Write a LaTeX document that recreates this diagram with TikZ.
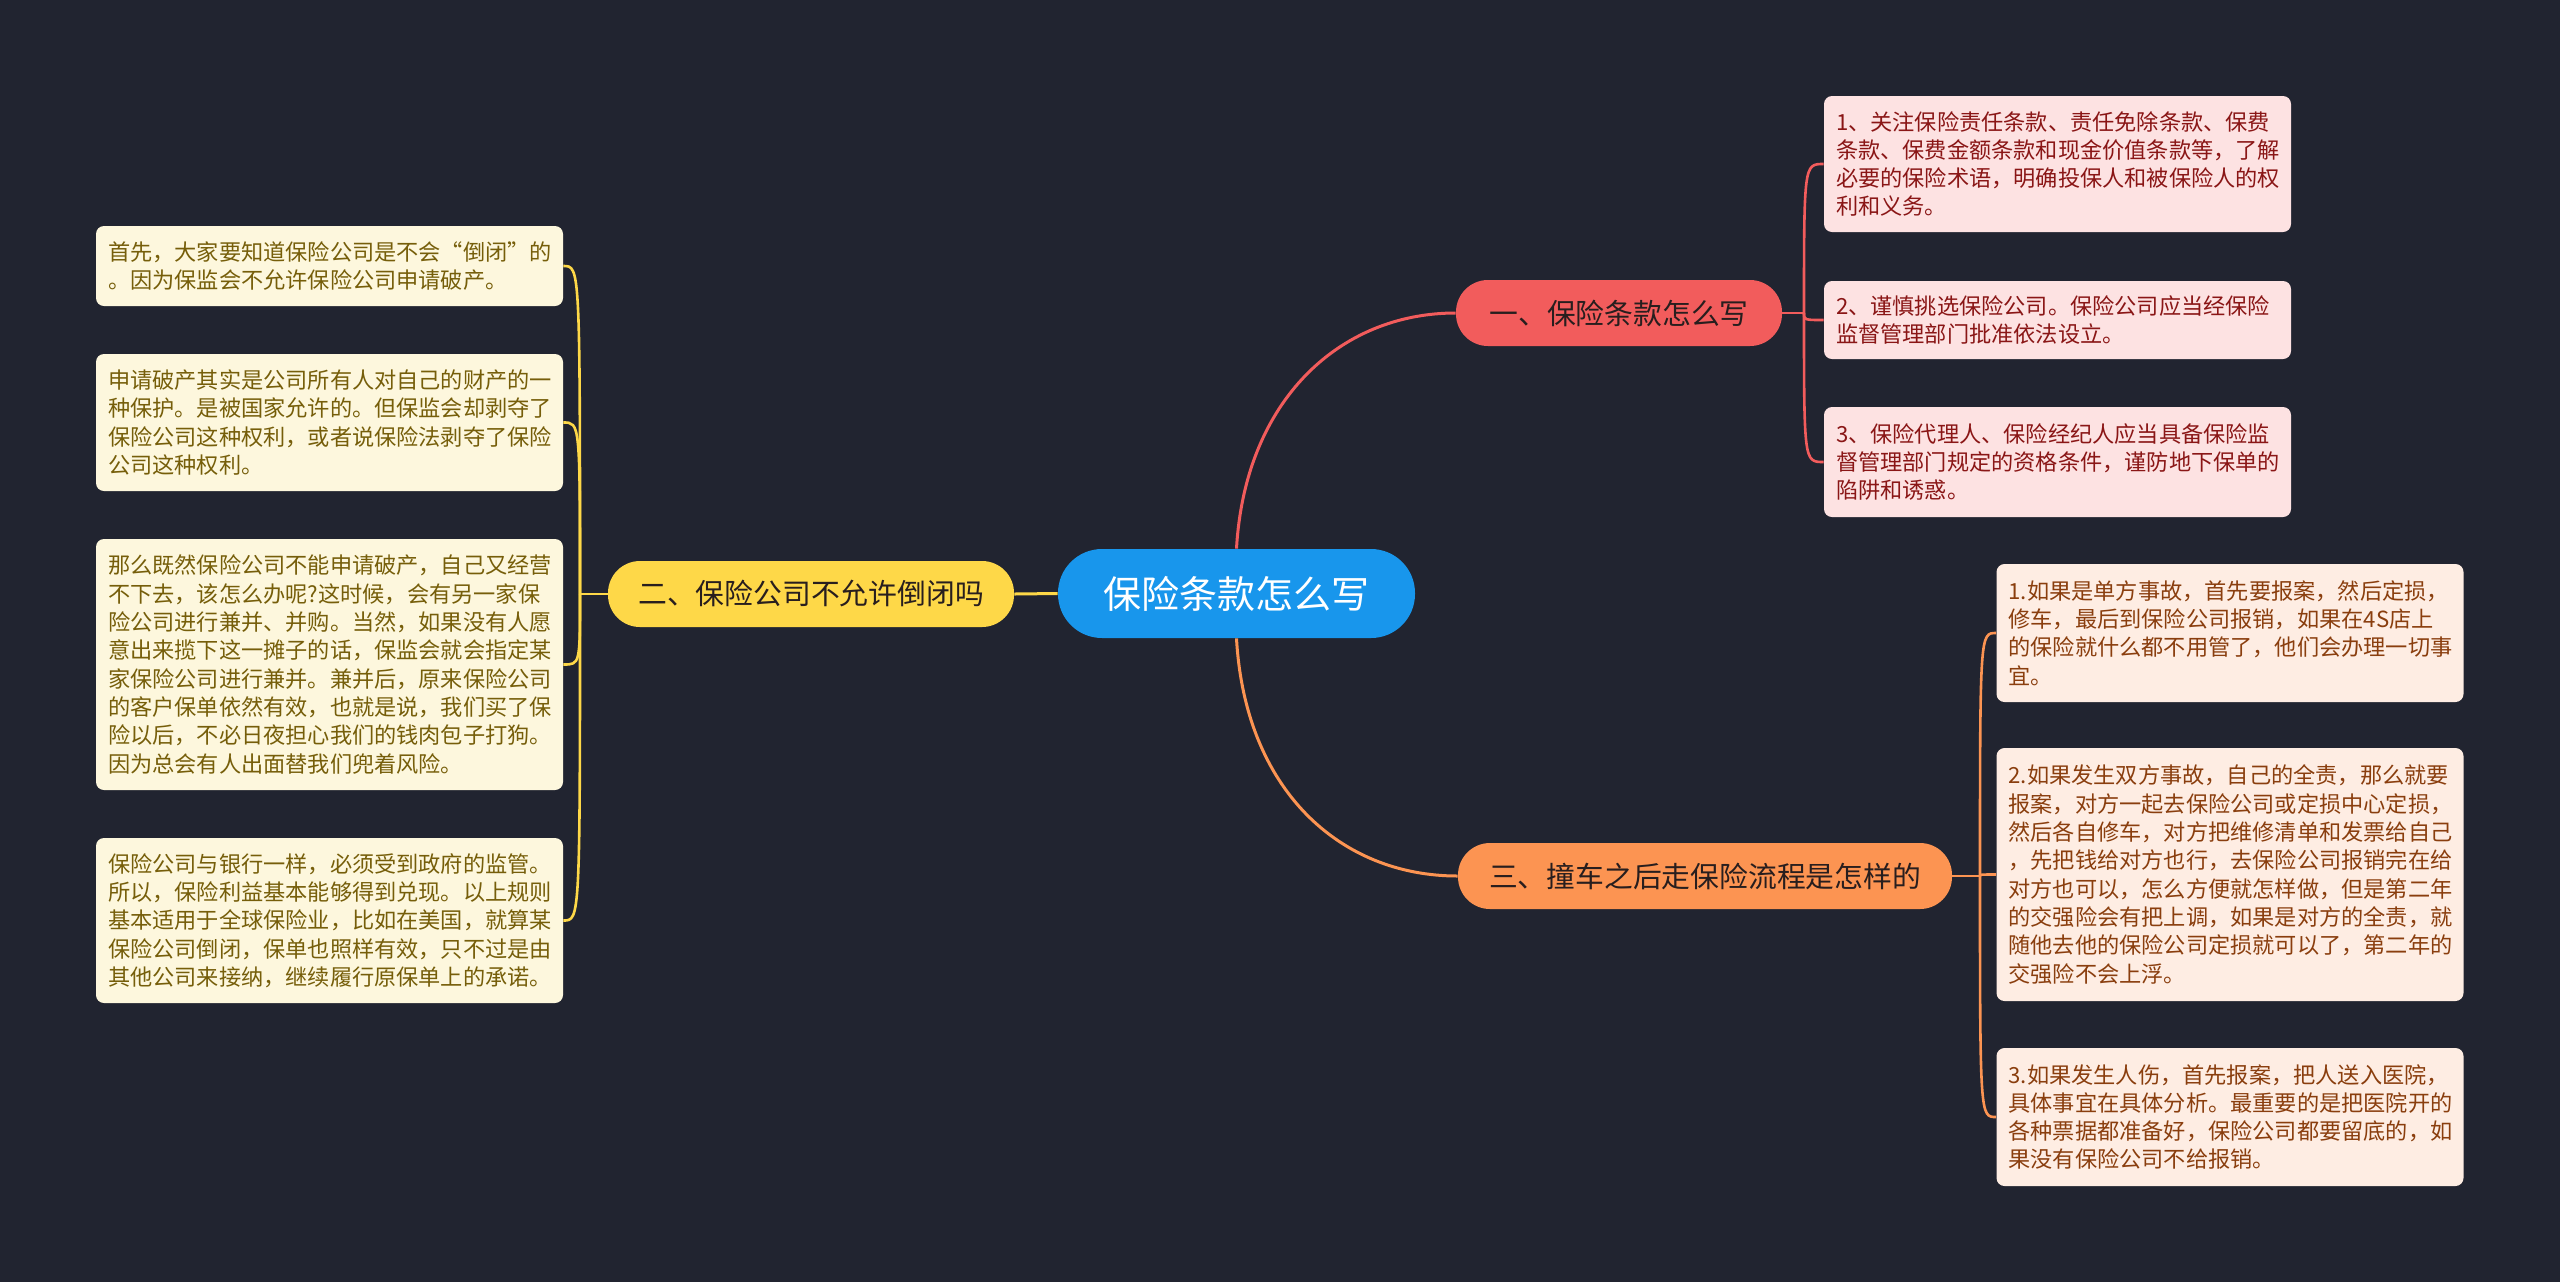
\documentclass[tikz,border=0pt]{standalone}
\usepackage{fontspec}
\setmainfont{Noto Sans CJK SC}
\definecolor{bg}{RGB}{33,36,48}
\definecolor{cblue}{RGB}{24,150,236}
\definecolor{bred}{RGB}{242,92,92}
\definecolor{byel}{RGB}{254,216,72}
\definecolor{bora}{RGB}{252,148,82}
\definecolor{lred}{RGB}{253,226,226}
\definecolor{tred}{RGB}{138,22,22}
\definecolor{lora}{RGB}{254,237,227}
\definecolor{tora}{RGB}{138,62,14}
\definecolor{lyel}{RGB}{253,247,221}
\definecolor{tyel}{RGB}{118,94,10}
\definecolor{btext}{RGB}{40,30,30}
\tikzset{
  centralnode/.style={fill=cblue, rounded corners=22pt, text=white, minimum width=178.5pt, minimum height=44.5pt, inner sep=0pt, font=\fontsize{19pt}{22pt}\selectfont},
  branchnode/.style={rounded corners=16pt, text=btext, minimum height=33pt, inner sep=0pt, font=\fontsize{14.4pt}{17pt}\selectfont},
  leafnode/.style={rounded corners=4pt, inner xsep=6pt, inner ysep=0pt, text width=221.5pt, align=left, font=\fontsize{11.1pt}{14.15pt}\selectfont},
  redleaf/.style={leafnode, fill=lred, text=tred},
  oraleaf/.style={leafnode, fill=lora, text=tora},
  yelleaf/.style={leafnode, fill=lyel, text=tyel},
  conn/.style={line width=1.5pt},
  leafconn/.style={line width=1.3pt}
}
\begin{document}
\begin{tikzpicture}[x=0.5pt,y=-0.5pt]
\useasboundingbox (0,0) rectangle (2560,1281);
\fill[bg] (-20,-20) rectangle (2580,1301);

% central
\node[centralnode] (c) at (1236.5,593.5) {保险条款怎么写};

% branches
\node[branchnode, fill=bred, minimum width=163pt] (b1) at (1619,313) {一、保险条款怎么写};
\node[branchnode, fill=byel, minimum width=203pt] (b2) at (811,594) {二、保险公司不允许倒闭吗};
\node[branchnode, fill=bora, minimum width=247pt] (b3) at (1705,876) {三、撞车之后走保险流程是怎样的};

% right red leaves
\node[redleaf, minimum height=68pt] (r1) at (2057.5,164) {1、关注保险责任条款、责任免除条款、保费\\条款、保费金额条款和现金价值条款等，了解\\必要的保险术语，明确投保人和被保险人的权\\利和义务。};
\node[redleaf, minimum height=39pt] (r2) at (2057.5,320) {2、谨慎挑选保险公司。保险公司应当经保险\\监督管理部门批准依法设立。};
\node[redleaf, minimum height=55pt] (r3) at (2057.5,462) {3、保险代理人、保险经纪人应当具备保险监\\督管理部门规定的资格条件，谨防地下保单的\\陷阱和诱惑。};

% right orange leaves
\node[oraleaf, minimum height=69pt] (o1) at (2230,633) {1.如果是单方事故，首先要报案，然后定损，\\修车，最后到保险公司报销，如果在4S店上\\的保险就什么都不用管了，他们会办理一切事\\宜。};
\node[oraleaf, minimum height=126.5pt] (o2) at (2230,874.5) {2.如果发生双方事故，自己的全责，那么就要\\报案，对方一起去保险公司或定损中心定损，\\然后各自修车，对方把维修清单和发票给自己\\，先把钱给对方也行，去保险公司报销完在给\\对方也可以，怎么方便就怎样做，但是第二年\\的交强险会有把上调，如果是对方的全责，就\\随他去他的保险公司定损就可以了，第二年的\\交强险不会上浮。};
\node[oraleaf, minimum height=69pt] (o3) at (2230,1117) {3.如果发生人伤，首先报案，把人送入医院，\\具体事宜在具体分析。最重要的是把医院开的\\各种票据都准备好，保险公司都要留底的，如\\果没有保险公司不给报销。};

% left yellow leaves
\node[yelleaf, minimum height=40pt] (l1) at (329.5,266) {首先，大家要知道保险公司是不会“倒闭”的\\。因为保监会不允许保险公司申请破产。};
\node[yelleaf, minimum height=68.5pt] (l2) at (329.5,422.5) {申请破产其实是公司所有人对自己的财产的一\\种保护。是被国家允许的。但保监会却剥夺了\\保险公司这种权利，或者说保险法剥夺了保险\\公司这种权利。};
\node[yelleaf, minimum height=125.5pt] (l3) at (329.5,664.5) {那么既然保险公司不能申请破产，自己又经营\\不下去，该怎么办呢?这时候，会有另一家保\\险公司进行兼并、并购。当然，如果没有人愿\\意出来揽下这一摊子的话，保监会就会指定某\\家保险公司进行兼并。兼并后，原来保险公司\\的客户保单依然有效，也就是说，我们买了保\\险以后，不必日夜担心我们的钱肉包子打狗。\\因为总会有人出面替我们兜着风险。};
\node[yelleaf, minimum height=82.5pt] (l4) at (329.5,920.5) {保险公司与银行一样，必须受到政府的监管。\\所以，保险利益基本能够得到兑现。以上规则\\基本适用于全球保险业，比如在美国，就算某\\保险公司倒闭，保单也照样有效，只不过是由\\其他公司来接纳，继续履行原保单上的承诺。};

% central to branches
\draw[conn, bred] (c.north) .. controls (1245,400) and (1340,313) .. (b1.west);
\draw[conn, bora] (c.south) .. controls (1245,790) and (1340,876) .. (b3.west);
\draw[conn, byel] (c.west) -- (b2.east);

% branch 1 to leaves
\coordinate (j1) at (1804,313);
\draw[leafconn, bred] (b1.east) -- (j1);
\foreach \n in {r1,r2,r3}{
  \draw[leafconn, bred] (j1) .. controls (j1 |- \n.west) .. (\n.west);
}
% branch 3 to leaves
\coordinate (j3) at (1980,876);
\draw[leafconn, bora] (b3.east) -- (j3);
\foreach \n in {o1,o2,o3}{
  \draw[leafconn, bora] (j3) .. controls (j3 |- \n.west) .. (\n.west);
}
% branch 2 to leaves
\coordinate (j2) at (580,594);
\draw[leafconn, byel] (b2.west) -- (j2);
\foreach \n in {l1,l2,l3,l4}{
  \draw[leafconn, byel] (j2) .. controls (j2 |- \n.east) .. (\n.east);
}
\end{tikzpicture}
\end{document}
